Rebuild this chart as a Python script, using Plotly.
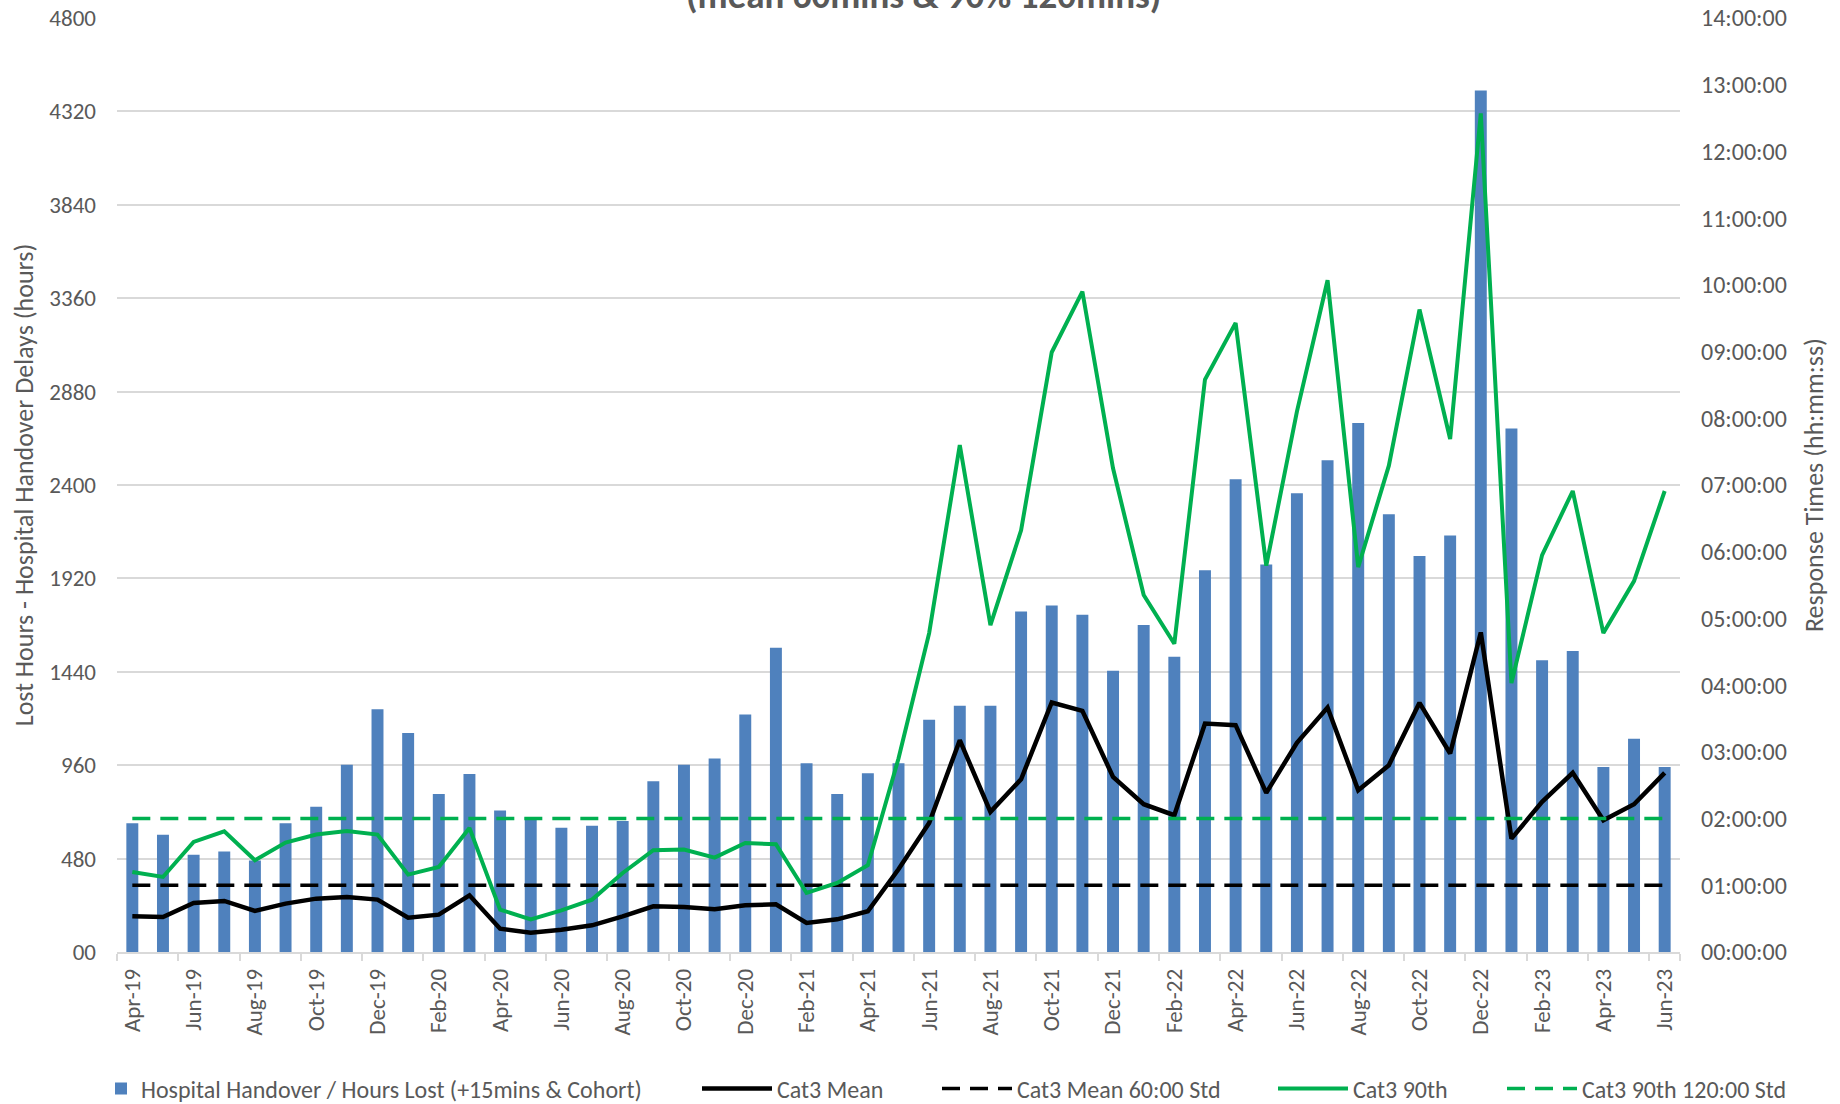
import plotly.graph_objects as go

# ---- Data ----
months = [
    "Apr-19", "May-19", "Jun-19", "Jul-19", "Aug-19", "Sep-19", "Oct-19", "Nov-19", "Dec-19",
    "Jan-20", "Feb-20", "Mar-20", "Apr-20", "May-20", "Jun-20", "Jul-20", "Aug-20", "Sep-20",
    "Oct-20", "Nov-20", "Dec-20", "Jan-21", "Feb-21", "Mar-21", "Apr-21", "May-21", "Jun-21",
    "Jul-21", "Aug-21", "Sep-21", "Oct-21", "Nov-21", "Dec-21", "Jan-22", "Feb-22", "Mar-22",
    "Apr-22", "May-22", "Jun-22", "Jul-22", "Aug-22", "Sep-22", "Oct-22", "Nov-22", "Dec-22",
    "Jan-23", "Feb-23", "Mar-23", "Apr-23", "May-23", "Jun-23",
]

# Hospital handover lost hours (left axis, hours)
lost_hours = [
    662, 602, 500, 517, 470, 662, 747, 962, 1247,
    1126, 812, 915, 727, 692, 638, 649, 673, 877,
    962, 995, 1220, 1564, 970, 812, 919, 970, 1193,
    1265, 1266, 1750, 1781, 1733, 1445, 1680, 1517, 1962,
    2430, 1991, 2358, 2527, 2718, 2250, 2035, 2141, 4428,
    2690, 1499, 1547, 951, 1096, 951,
]

# Cat3 mean response time (right axis, hours)
cat3_mean = [
    0.535, 0.525, 0.735, 0.765, 0.615, 0.725, 0.800, 0.825, 0.785,
    0.515, 0.560, 0.850, 0.350, 0.290, 0.335, 0.400, 0.535, 0.685,
    0.675, 0.640, 0.700, 0.715, 0.435, 0.490, 0.610, 1.240, 1.935,
    3.175, 2.100, 2.590, 3.740, 3.615, 2.625, 2.215, 2.050, 3.425,
    3.400, 2.385, 3.135, 3.665, 2.425, 2.800, 3.735, 2.975, 4.790,
    1.700, 2.250, 2.685, 1.975, 2.215, 2.685,
]

# Cat3 90th centile response time (right axis, hours)
cat3_90th = [
    1.200, 1.125, 1.650, 1.810, 1.375, 1.640, 1.760, 1.815, 1.760,
    1.160, 1.275, 1.860, 0.635, 0.490, 0.625, 0.785, 1.185, 1.525,
    1.535, 1.415, 1.635, 1.615, 0.885, 1.035, 1.300, 2.900, 4.780,
    7.600, 4.900, 6.320, 8.990, 9.900, 7.250, 5.350, 4.620, 8.580,
    9.430, 5.790, 8.100, 10.070, 5.770, 7.290, 9.630, 7.690, 12.570,
    4.030, 5.950, 6.910, 4.780, 5.560, 6.910,
]

# Standards (hours)
mean_standard = 1.0     # 60:00
p90_standard = 2.0      # 120:00

left_ticks = [0, 480, 960, 1440, 1920, 2400, 2880, 3360, 3840, 4320, 4800]
left_tick_text = ["00", "480", "960", "1440", "1920", "2400", "2880", "3360", "3840", "4320", "4800"]
right_ticks = list(range(0, 15))
right_tick_text = ["%02d:00:00" % h for h in right_ticks]

# ---- Style ----
FONT = "Carlito, Calibri, Lato, sans-serif"
GREY = "#595959"
GRID = "#D9D9D9"
BLUE = "#4F81BD"
GREEN = "#00B050"

W, H = 1840, 1104
L, R, T, B = 117, 160, 18, 152
plot_w = W - L - R
plot_h = H - T - B

fig = go.Figure()

fig.add_trace(go.Bar(
    x=months, y=lost_hours, name="Hospital Handover / Hours Lost (+15mins & Cohort)",
    marker=dict(color=BLUE, line=dict(width=0)), yaxis="y", legend="legend",
))
fig.add_trace(go.Scatter(
    x=months, y=cat3_mean, name="Cat3 Mean", mode="lines",
    line=dict(color="#000000", width=4.5), yaxis="y2", legend="legend2",
))
fig.add_trace(go.Scatter(
    x=months, y=[mean_standard] * len(months), name="Cat3 Mean 60:00 Std", mode="lines",
    line=dict(color="#000000", width=3.5, dash="18px,10px"), yaxis="y2", legend="legend3",
))
fig.add_trace(go.Scatter(
    x=months, y=cat3_90th, name="Cat3 90th", mode="lines",
    line=dict(color=GREEN, width=4), yaxis="y2", legend="legend4",
))
fig.add_trace(go.Scatter(
    x=months, y=[p90_standard] * len(months), name="Cat3 90th 120:00 Std", mode="lines",
    line=dict(color=GREEN, width=3.5, dash="18px,10px"), yaxis="y2", legend="legend5",
))

LEG_FONT = dict(family=FONT, size=24, color=GREY)
legend_text_starts = [143, 779, 1019, 1355, 1584]
legend_item_widths = [30, 70, 70, 70, 70]
legends = {}
for i, (xs, iw) in enumerate(zip(legend_text_starts, legend_item_widths)):
    key = "legend" if i == 0 else "legend%d" % (i + 1)
    legends[key] = dict(
        orientation="h", xref="container", yref="container",
        x=(xs - iw - 12) / W, xanchor="left",
        y=1 - 1089 / H, yanchor="middle",
        itemwidth=iw,
        font=LEG_FONT, bgcolor="rgba(0,0,0,0)", borderwidth=0,
    )

fig.update_layout(
    template="none",
    width=W, height=H,
    margin=dict(l=L, r=R, t=T, b=B, pad=0, autoexpand=False),
    paper_bgcolor="white", plot_bgcolor="white",
    font=dict(family=FONT, size=20, color=GREY),
    bargap=0.61,
    showlegend=True,
    xaxis=dict(
        type="category", categoryorder="array", categoryarray=months,
        tickmode="array", tickvals=months[::2], ticktext=months[::2],
        tickangle=-90, tickson="boundaries",
        ticks="outside", ticklen=7, tickcolor=GRID, tickwidth=1.5,
        showline=True, linecolor=GRID, linewidth=1.5,
        showgrid=False, zeroline=False, automargin=False,
        tickfont=dict(family=FONT, size=23, color=GREY),
        ticklabelstandoff=6,
    ),
    yaxis=dict(
        range=[0, 4800], tickmode="array", tickvals=left_ticks, ticktext=left_tick_text,
        showgrid=True, gridcolor=GRID, gridwidth=1.5, zeroline=False,
        showline=False, ticks="", automargin=False,
        tickfont=dict(family=FONT, size=23, color=GREY),
        ticklabelstandoff=20,
        title=dict(text="Lost Hours - Hospital Handover Delays (hours)",
                   font=dict(family=FONT, size=26, color=GREY), standoff=8),
    ),
    yaxis2=dict(
        range=[0, 14], overlaying="y", side="right",
        tickmode="array", tickvals=right_ticks, ticktext=right_tick_text,
        showgrid=False, zeroline=False, showline=False, ticks="", automargin=False,
        tickfont=dict(family=FONT, size=24, color=GREY),
        ticklabelstandoff=20,
        title=dict(text="Response Times (hh:mm:ss)",
                   font=dict(family=FONT, size=26, color=GREY), standoff=18),
    ),
    annotations=[dict(
        text="<b>(mean 60mins & 90% 120mins)</b>",
        xref="paper", yref="paper", x=(923 - L) / plot_w, y=1 - 2 / plot_h,
        xanchor="center", yanchor="bottom", showarrow=False,
        font=dict(family=FONT, size=37, color=GREY),
    )],
    **legends,
)

fig.write_html(
    "out.html",
    config={"displayModeBar": False},
    post_script="document.body.style.margin='0';document.body.style.overflow='hidden';",
)
